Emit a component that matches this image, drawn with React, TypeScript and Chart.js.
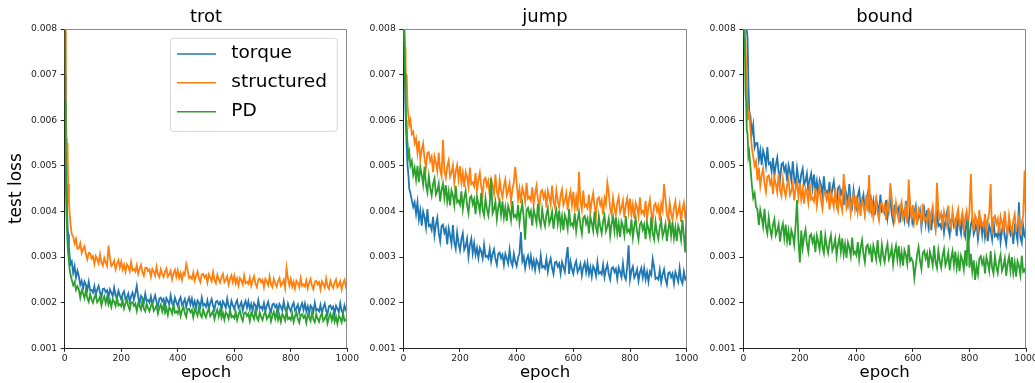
import React, { useEffect, useRef } from "react";
import { Chart, registerables } from "chart.js";

Chart.register(...registerables);

const FONT = "'DejaVu Sans', 'Liberation Sans', sans-serif";

const epochs = [
  0, 2, 4, 6, 8, 10, 12, 15, 18, 21, 25, 30, 35, 40, 45,
  50, 55, 60, 65, 70, 75, 80, 85, 90, 95,
  100, 105, 110, 115, 120, 125, 130, 135, 140, 145,
  150, 155, 160, 165, 170, 175, 180, 185, 190, 195,
  200, 205, 210, 215, 220, 225, 230, 235, 240, 245,
  250, 255, 260, 265, 270, 275, 280, 285, 290, 295,
  300, 305, 310, 315, 320, 325, 330, 335, 340, 345,
  350, 355, 360, 365, 370, 375, 380, 385, 390, 395,
  400, 405, 410, 415, 420, 425, 430, 435, 440, 445,
  450, 455, 460, 465, 470, 475, 480, 485, 490, 495,
  500, 505, 510, 515, 520, 525, 530, 535, 540, 545,
  550, 555, 560, 565, 570, 575, 580, 585, 590, 595,
  600, 605, 610, 615, 620, 625, 630, 635, 640, 645,
  650, 655, 660, 665, 670, 675, 680, 685, 690, 695,
  700, 705, 710, 715, 720, 725, 730, 735, 740, 745,
  750, 755, 760, 765, 770, 775, 780, 785, 790, 795,
  800, 805, 810, 815, 820, 825, 830, 835, 840, 845,
  850, 855, 860, 865, 870, 875, 880, 885, 890, 895,
  900, 905, 910, 915, 920, 925, 930, 935, 940, 945,
  950, 955, 960, 965, 970, 975, 980, 985, 990, 995,
  1000,
];

const seriesNames = ["torque", "structured", "PD"];
const seriesColors = ["#1f77b4", "#ff7f0e", "#2ca02c"];
const panelTitles = ["trot", "jump", "bound"];
const xTickValues = [0, 200, 400, 600, 800, 1000];
const yTickValues = [0.001, 0.002, 0.003, 0.004, 0.005, 0.006, 0.007, 0.008];

// ---------- trot ----------
const trotTorque = [
  0.0120, 0.0070, 0.0054, 0.0046, 0.0041, 0.0037, 0.0035, 0.0032, 0.0030, 0.00285, 0.0029, 0.00265, 0.0028, 0.00255, 0.0027,
  0.00258, 0.00239, 0.00248, 0.00231, 0.00246, 0.00239, 0.00228, 0.00246, 0.00227, 0.00228,
  0.00222, 0.00236, 0.00217, 0.00229, 0.00237, 0.00222, 0.00213, 0.00230, 0.00231, 0.00223,
  0.00227, 0.00211, 0.00229, 0.00222, 0.00214, 0.00233, 0.00216, 0.00209, 0.00226, 0.00216,
  0.00207, 0.00219, 0.00225, 0.00208, 0.00212, 0.00220, 0.00202, 0.00214, 0.00222, 0.00207,
  0.00220, 0.00237, 0.00213, 0.00198, 0.00215, 0.00210, 0.00200, 0.00220, 0.00203, 0.00206,
  0.00200, 0.00214, 0.00196, 0.00207, 0.00216, 0.00201, 0.00193, 0.00209, 0.00211, 0.00203,
  0.00208, 0.00192, 0.00210, 0.00204, 0.00196, 0.00216, 0.00199, 0.00193, 0.00211, 0.00201,
  0.00193, 0.00205, 0.00212, 0.00195, 0.00200, 0.00208, 0.00190, 0.00203, 0.00211, 0.00196,
  0.00209, 0.00192, 0.00203, 0.00188, 0.00205, 0.00200, 0.00191, 0.00211, 0.00194, 0.00197,
  0.00191, 0.00205, 0.00187, 0.00199, 0.00208, 0.00193, 0.00185, 0.00202, 0.00204, 0.00196,
  0.00201, 0.00185, 0.00203, 0.00197, 0.00189, 0.00209, 0.00192, 0.00186, 0.00204, 0.00194,
  0.00186, 0.00198, 0.00205, 0.00188, 0.00193, 0.00201, 0.00183, 0.00196, 0.00204, 0.00189,
  0.00203, 0.00186, 0.00197, 0.00182, 0.00199, 0.00194, 0.00185, 0.00205, 0.00188, 0.00191,
  0.00185, 0.00199, 0.00181, 0.00193, 0.00202, 0.00187, 0.00179, 0.00196, 0.00198, 0.00190,
  0.00195, 0.00179, 0.00197, 0.00191, 0.00183, 0.00203, 0.00186, 0.00180, 0.00198, 0.00188,
  0.00181, 0.00193, 0.00200, 0.00183, 0.00188, 0.00196, 0.00178, 0.00191, 0.00199, 0.00184,
  0.00198, 0.00181, 0.00192, 0.00177, 0.00194, 0.00189, 0.00180, 0.00200, 0.00183, 0.00186,
  0.00181, 0.00195, 0.00177, 0.00189, 0.00198, 0.00183, 0.00175, 0.00192, 0.00194, 0.00186,
  0.00191, 0.00175, 0.00193, 0.00187, 0.00179, 0.00199, 0.00182, 0.00176, 0.00194, 0.00184,
  0.00188,
];
const trotStructured = [
  0.0120, 0.0080, 0.0064, 0.0056, 0.0050, 0.0055, 0.0046, 0.0042, 0.0039, 0.0037, 0.0035, 0.00345, 0.00330, 0.00340, 0.00318,
  0.00319, 0.00330, 0.00309, 0.00318, 0.00324, 0.00306, 0.00295, 0.00309, 0.00308, 0.00297,
  0.00302, 0.00285, 0.00302, 0.00295, 0.00286, 0.00306, 0.00288, 0.00281, 0.00298, 0.00288,
  0.00280, 0.00325, 0.00298, 0.00280, 0.00284, 0.00292, 0.00273, 0.00285, 0.00293, 0.00277,
  0.00290, 0.00273, 0.00283, 0.00268, 0.00284, 0.00279, 0.00269, 0.00289, 0.00271, 0.00274,
  0.00268, 0.00282, 0.00263, 0.00274, 0.00283, 0.00268, 0.00259, 0.00276, 0.00277, 0.00269,
  0.00273, 0.00257, 0.00274, 0.00268, 0.00259, 0.00279, 0.00262, 0.00256, 0.00273, 0.00263,
  0.00256, 0.00268, 0.00275, 0.00257, 0.00262, 0.00270, 0.00251, 0.00264, 0.00272, 0.00257,
  0.00271, 0.00254, 0.00265, 0.00250, 0.00266, 0.00261, 0.00285, 0.00272, 0.00254, 0.00257,
  0.00252, 0.00266, 0.00248, 0.00259, 0.00268, 0.00253, 0.00245, 0.00262, 0.00263, 0.00255,
  0.00260, 0.00244, 0.00262, 0.00255, 0.00247, 0.00267, 0.00250, 0.00243, 0.00261, 0.00251,
  0.00244, 0.00256, 0.00263, 0.00245, 0.00250, 0.00258, 0.00240, 0.00252, 0.00260, 0.00245,
  0.00259, 0.00242, 0.00253, 0.00238, 0.00254, 0.00249, 0.00240, 0.00260, 0.00243, 0.00246,
  0.00241, 0.00255, 0.00237, 0.00248, 0.00258, 0.00242, 0.00234, 0.00251, 0.00253, 0.00245,
  0.00250, 0.00234, 0.00252, 0.00246, 0.00238, 0.00258, 0.00240, 0.00234, 0.00252, 0.00242,
  0.00235, 0.00247, 0.00254, 0.00237, 0.00242, 0.00250, 0.00232, 0.00276, 0.00253, 0.00238,
  0.00252, 0.00235, 0.00246, 0.00231, 0.00248, 0.00243, 0.00234, 0.00254, 0.00237, 0.00240,
  0.00235, 0.00249, 0.00231, 0.00243, 0.00252, 0.00237, 0.00229, 0.00246, 0.00248, 0.00240,
  0.00245, 0.00229, 0.00247, 0.00241, 0.00233, 0.00253, 0.00236, 0.00230, 0.00248, 0.00238,
  0.00232, 0.00244, 0.00251, 0.00234, 0.00239, 0.00247, 0.00229, 0.00242, 0.00250, 0.00235,
  0.00242,
];
const trotPD = [
  0.0120, 0.0064, 0.0047, 0.0040, 0.0036, 0.0033, 0.0031, 0.0029, 0.0027, 0.0026, 0.0025, 0.00238, 0.00245, 0.00228, 0.00236,
  0.00229, 0.00211, 0.00227, 0.00220, 0.00210, 0.00228, 0.00210, 0.00202, 0.00219, 0.00207,
  0.00200, 0.00212, 0.00218, 0.00201, 0.00205, 0.00213, 0.00194, 0.00207, 0.00214, 0.00199,
  0.00213, 0.00196, 0.00206, 0.00191, 0.00207, 0.00202, 0.00193, 0.00212, 0.00194, 0.00197,
  0.00192, 0.00206, 0.00187, 0.00198, 0.00207, 0.00192, 0.00184, 0.00200, 0.00201, 0.00193,
  0.00198, 0.00182, 0.00199, 0.00193, 0.00185, 0.00204, 0.00187, 0.00181, 0.00198, 0.00188,
  0.00181, 0.00193, 0.00199, 0.00182, 0.00187, 0.00194, 0.00176, 0.00189, 0.00196, 0.00181,
  0.00195, 0.00178, 0.00188, 0.00173, 0.00190, 0.00185, 0.00176, 0.00196, 0.00178, 0.00181,
  0.00176, 0.00190, 0.00171, 0.00183, 0.00192, 0.00177, 0.00169, 0.00186, 0.00187, 0.00179,
  0.00184, 0.00168, 0.00185, 0.00179, 0.00171, 0.00191, 0.00174, 0.00168, 0.00185, 0.00175,
  0.00168, 0.00180, 0.00187, 0.00170, 0.00175, 0.00182, 0.00164, 0.00177, 0.00185, 0.00170,
  0.00184, 0.00167, 0.00178, 0.00163, 0.00179, 0.00174, 0.00165, 0.00185, 0.00168, 0.00171,
  0.00166, 0.00180, 0.00162, 0.00174, 0.00183, 0.00168, 0.00160, 0.00177, 0.00179, 0.00171,
  0.00176, 0.00160, 0.00178, 0.00172, 0.00164, 0.00184, 0.00167, 0.00161, 0.00179, 0.00169,
  0.00162, 0.00174, 0.00181, 0.00164, 0.00169, 0.00177, 0.00159, 0.00172, 0.00180, 0.00165,
  0.00179, 0.00162, 0.00173, 0.00158, 0.00175, 0.00170, 0.00161, 0.00181, 0.00164, 0.00167,
  0.00162, 0.00176, 0.00158, 0.00170, 0.00179, 0.00164, 0.00156, 0.00173, 0.00175, 0.00167,
  0.00172, 0.00156, 0.00174, 0.00168, 0.00160, 0.00180, 0.00163, 0.00157, 0.00175, 0.00165,
  0.00158, 0.00170, 0.00177, 0.00160, 0.00165, 0.00173, 0.00155, 0.00168, 0.00176, 0.00161,
  0.00175, 0.00158, 0.00169, 0.00154, 0.00171, 0.00166, 0.00157, 0.00177, 0.00160, 0.00163,
  0.00160,
];

// ---------- jump ----------
const jumpTorque = [
  0.0085, 0.0078, 0.0074, 0.0068, 0.0062, 0.0058, 0.0054, 0.0050, 0.0048, 0.0045, 0.00440, 0.00425, 0.00410, 0.00420, 0.00395,
  0.00420, 0.00382, 0.00402, 0.00369, 0.00400, 0.00388, 0.00365, 0.00405, 0.00368, 0.00371,
  0.00360, 0.00388, 0.00348, 0.00371, 0.00386, 0.00354, 0.00335, 0.00368, 0.00371, 0.00353,
  0.00362, 0.00328, 0.00363, 0.00348, 0.00329, 0.00370, 0.00332, 0.00318, 0.00354, 0.00330,
  0.00315, 0.00339, 0.00352, 0.00316, 0.00324, 0.00340, 0.00301, 0.00326, 0.00340, 0.00308,
  0.00330, 0.00305, 0.00320, 0.00298, 0.00320, 0.00312, 0.00297, 0.00327, 0.00301, 0.00303,
  0.00297, 0.00317, 0.00290, 0.00307, 0.00317, 0.00296, 0.00283, 0.00307, 0.00310, 0.00298,
  0.00305, 0.00283, 0.00307, 0.00297, 0.00286, 0.00316, 0.00290, 0.00281, 0.00307, 0.00290,
  0.00280, 0.00299, 0.00308, 0.00355, 0.00291, 0.00301, 0.00276, 0.00294, 0.00303, 0.00282,
  0.00302, 0.00278, 0.00293, 0.00272, 0.00294, 0.00287, 0.00273, 0.00303, 0.00277, 0.00280,
  0.00275, 0.00296, 0.00268, 0.00286, 0.00297, 0.00276, 0.00263, 0.00288, 0.00290, 0.00279,
  0.00286, 0.00264, 0.00289, 0.00279, 0.00268, 0.00298, 0.00322, 0.00263, 0.00290, 0.00273,
  0.00263, 0.00282, 0.00291, 0.00267, 0.00274, 0.00285, 0.00260, 0.00278, 0.00288, 0.00267,
  0.00287, 0.00263, 0.00278, 0.00257, 0.00280, 0.00273, 0.00259, 0.00289, 0.00264, 0.00267,
  0.00262, 0.00283, 0.00256, 0.00273, 0.00284, 0.00263, 0.00251, 0.00275, 0.00278, 0.00267,
  0.00274, 0.00252, 0.00277, 0.00267, 0.00256, 0.00286, 0.00259, 0.00251, 0.00278, 0.00326,
  0.00251, 0.00270, 0.00279, 0.00255, 0.00262, 0.00273, 0.00248, 0.00266, 0.00276, 0.00255,
  0.00275, 0.00251, 0.00267, 0.00246, 0.00268, 0.00261, 0.00296, 0.00278, 0.00252, 0.00255,
  0.00251, 0.00272, 0.00245, 0.00262, 0.00273, 0.00252, 0.00240, 0.00265, 0.00267, 0.00256,
  0.00264, 0.00242, 0.00267, 0.00257, 0.00246, 0.00276, 0.00250, 0.00242, 0.00268, 0.00251,
  0.00255,
];
const jumpStructured = [
  0.0090, 0.0085, 0.0080, 0.0076, 0.0072, 0.0068, 0.0070, 0.0063, 0.0061, 0.0059, 0.0060, 0.0057, 0.00575, 0.0055, 0.0056,
  0.00528, 0.00555, 0.00514, 0.00535, 0.00549, 0.00516, 0.00496, 0.00528, 0.00530, 0.00510,
  0.00520, 0.00486, 0.00521, 0.00507, 0.00488, 0.00529, 0.00491, 0.00477, 0.00557, 0.00489,
  0.00474, 0.00499, 0.00512, 0.00476, 0.00485, 0.00501, 0.00463, 0.00488, 0.00502, 0.00471,
  0.00499, 0.00463, 0.00485, 0.00453, 0.00486, 0.00475, 0.00454, 0.00496, 0.00460, 0.00464,
  0.00455, 0.00484, 0.00445, 0.00469, 0.00485, 0.00454, 0.00436, 0.00470, 0.00474, 0.00456,
  0.00467, 0.00434, 0.00470, 0.00457, 0.00439, 0.00481, 0.00444, 0.00432, 0.00469, 0.00445,
  0.00431, 0.00456, 0.00470, 0.00435, 0.00445, 0.00461, 0.00423, 0.00448, 0.00464, 0.00498,
  0.00462, 0.00426, 0.00449, 0.00418, 0.00452, 0.00441, 0.00421, 0.00463, 0.00428, 0.00432,
  0.00424, 0.00453, 0.00415, 0.00439, 0.00456, 0.00426, 0.00409, 0.00443, 0.00447, 0.00430,
  0.00441, 0.00409, 0.00445, 0.00432, 0.00415, 0.00457, 0.00421, 0.00409, 0.00446, 0.00423,
  0.00409, 0.00435, 0.00448, 0.00414, 0.00424, 0.00440, 0.00403, 0.00430, 0.00444, 0.00414,
  0.00443, 0.00408, 0.00430, 0.00400, 0.00487, 0.00423, 0.00404, 0.00446, 0.00411, 0.00415,
  0.00407, 0.00437, 0.00398, 0.00423, 0.00440, 0.00410, 0.00392, 0.00427, 0.00431, 0.00414,
  0.00425, 0.00393, 0.00429, 0.00416, 0.00463, 0.00441, 0.00405, 0.00393, 0.00430, 0.00407,
  0.00393, 0.00419, 0.00432, 0.00398, 0.00408, 0.00424, 0.00387, 0.00414, 0.00429, 0.00399,
  0.00428, 0.00393, 0.00415, 0.00385, 0.00419, 0.00409, 0.00389, 0.00431, 0.00396, 0.00401,
  0.00393, 0.00423, 0.00384, 0.00409, 0.00426, 0.00396, 0.00379, 0.00413, 0.00418, 0.00401,
  0.00412, 0.00380, 0.00417, 0.00403, 0.00460, 0.00429, 0.00393, 0.00381, 0.00419, 0.00396,
  0.00382, 0.00408, 0.00422, 0.00388, 0.00398, 0.00415, 0.00377, 0.00404, 0.00419, 0.00389,
  0.00400,
];
const jumpPD = [
  0.0090, 0.0082, 0.0078, 0.0070, 0.0065, 0.0060, 0.0057, 0.0055, 0.0052, 0.0053, 0.0050, 0.0051, 0.0048, 0.00495, 0.0047,
  0.00500, 0.00464, 0.00497, 0.00480, 0.00459, 0.00498, 0.00458, 0.00442, 0.00477, 0.00451,
  0.00435, 0.00460, 0.00472, 0.00437, 0.00445, 0.00461, 0.00422, 0.00448, 0.00461, 0.00430,
  0.00458, 0.00422, 0.00444, 0.00413, 0.00446, 0.00435, 0.00414, 0.00456, 0.00420, 0.00424,
  0.00415, 0.00444, 0.00405, 0.00429, 0.00445, 0.00414, 0.00396, 0.00430, 0.00434, 0.00416,
  0.00427, 0.00394, 0.00431, 0.00417, 0.00399, 0.00441, 0.00404, 0.00391, 0.00429, 0.00405,
  0.00391, 0.00417, 0.00473, 0.00396, 0.00405, 0.00421, 0.00383, 0.00409, 0.00423, 0.00393,
  0.00422, 0.00387, 0.00409, 0.00379, 0.00412, 0.00401, 0.00381, 0.00423, 0.00388, 0.00392,
  0.00384, 0.00414, 0.00375, 0.00400, 0.00417, 0.00386, 0.00338, 0.00403, 0.00408, 0.00390,
  0.00401, 0.00369, 0.00405, 0.00391, 0.00375, 0.00417, 0.00381, 0.00368, 0.00405, 0.00382,
  0.00368, 0.00393, 0.00407, 0.00373, 0.00383, 0.00399, 0.00362, 0.00389, 0.00403, 0.00373,
  0.00402, 0.00367, 0.00389, 0.00359, 0.00392, 0.00382, 0.00362, 0.00405, 0.00370, 0.00374,
  0.00366, 0.00396, 0.00357, 0.00382, 0.00398, 0.00369, 0.00351, 0.00386, 0.00390, 0.00373,
  0.00384, 0.00352, 0.00388, 0.00375, 0.00358, 0.00400, 0.00364, 0.00352, 0.00389, 0.00366,
  0.00352, 0.00378, 0.00391, 0.00357, 0.00367, 0.00384, 0.00347, 0.00373, 0.00388, 0.00358,
  0.00387, 0.00352, 0.00374, 0.00344, 0.00378, 0.00368, 0.00348, 0.00390, 0.00355, 0.00360,
  0.00352, 0.00382, 0.00343, 0.00368, 0.00385, 0.00355, 0.00338, 0.00372, 0.00377, 0.00360,
  0.00371, 0.00339, 0.00375, 0.00362, 0.00345, 0.00388, 0.00352, 0.00339, 0.00377, 0.00354,
  0.00340, 0.00366, 0.00380, 0.00345, 0.00356, 0.00372, 0.00335, 0.00362, 0.00377, 0.00347,
  0.00377, 0.00342, 0.00365, 0.00335, 0.00369, 0.00358, 0.00338, 0.00381, 0.00346, 0.00310,
  0.00412,
];

// ---------- bound ----------
const boundTorque = [
  0.0090, 0.0088, 0.0086, 0.0085, 0.0083, 0.0081, 0.0080, 0.0078, 0.0068, 0.0062, 0.0061, 0.0057, 0.0059, 0.0054, 0.0055,
  0.00550, 0.00513, 0.00534, 0.00502, 0.00534, 0.00522, 0.00500, 0.00541, 0.00504, 0.00507,
  0.00488, 0.00517, 0.00478, 0.00502, 0.00518, 0.00487, 0.00469, 0.00503, 0.00507, 0.00489,
  0.00499, 0.00466, 0.00501, 0.00487, 0.00468, 0.00510, 0.00472, 0.00459, 0.00495, 0.00471,
  0.00457, 0.00482, 0.00494, 0.00459, 0.00467, 0.00483, 0.00444, 0.00470, 0.00483, 0.00452,
  0.00481, 0.00445, 0.00466, 0.00435, 0.00468, 0.00457, 0.00436, 0.00477, 0.00441, 0.00445,
  0.00436, 0.00465, 0.00426, 0.00450, 0.00466, 0.00435, 0.00417, 0.00451, 0.00455, 0.00437,
  0.00447, 0.00414, 0.00451, 0.00436, 0.00418, 0.00460, 0.00423, 0.00410, 0.00447, 0.00423,
  0.00409, 0.00434, 0.00447, 0.00412, 0.00421, 0.00436, 0.00399, 0.00425, 0.00439, 0.00408,
  0.00437, 0.00401, 0.00423, 0.00392, 0.00426, 0.00414, 0.00394, 0.00437, 0.00400, 0.00404,
  0.00396, 0.00425, 0.00386, 0.00410, 0.00426, 0.00396, 0.00378, 0.00412, 0.00416, 0.00398,
  0.00409, 0.00376, 0.00413, 0.00399, 0.00381, 0.00423, 0.00387, 0.00374, 0.00411, 0.00387,
  0.00373, 0.00398, 0.00412, 0.00377, 0.00386, 0.00402, 0.00365, 0.00391, 0.00405, 0.00374,
  0.00403, 0.00367, 0.00390, 0.00359, 0.00393, 0.00382, 0.00362, 0.00404, 0.00368, 0.00372,
  0.00364, 0.00393, 0.00354, 0.00379, 0.00396, 0.00365, 0.00348, 0.00382, 0.00386, 0.00368,
  0.00379, 0.00346, 0.00383, 0.00369, 0.00352, 0.00395, 0.00358, 0.00345, 0.00383, 0.00359,
  0.00345, 0.00370, 0.00384, 0.00350, 0.00360, 0.00376, 0.00339, 0.00365, 0.00380, 0.00349,
  0.00378, 0.00343, 0.00366, 0.00335, 0.00369, 0.00358, 0.00339, 0.00381, 0.00346, 0.00350,
  0.00342, 0.00371, 0.00333, 0.00358, 0.00375, 0.00345, 0.00328, 0.00362, 0.00367, 0.00350,
  0.00361, 0.00329, 0.00366, 0.00353, 0.00336, 0.00420, 0.00343, 0.00331, 0.00368, 0.00345,
  0.00340,
];
const boundStructured = [
  0.0088, 0.0085, 0.0082, 0.0080, 0.0076, 0.0072, 0.0068, 0.0063, 0.0060, 0.0062, 0.0058, 0.0054, 0.0052, 0.0050, 0.0051,
  0.00468, 0.00496, 0.00456, 0.00479, 0.00494, 0.00462, 0.00443, 0.00476, 0.00479, 0.00460,
  0.00471, 0.00438, 0.00474, 0.00460, 0.00442, 0.00484, 0.00447, 0.00434, 0.00471, 0.00447,
  0.00433, 0.00458, 0.00471, 0.00436, 0.00445, 0.00462, 0.00424, 0.00450, 0.00464, 0.00433,
  0.00462, 0.00426, 0.00448, 0.00417, 0.00450, 0.00440, 0.00419, 0.00461, 0.00426, 0.00430,
  0.00422, 0.00451, 0.00413, 0.00436, 0.00454, 0.00424, 0.00406, 0.00440, 0.00444, 0.00426,
  0.00437, 0.00404, 0.00441, 0.00427, 0.00410, 0.00452, 0.00415, 0.00402, 0.00440, 0.00416,
  0.00402, 0.00482, 0.00441, 0.00406, 0.00416, 0.00433, 0.00396, 0.00422, 0.00437, 0.00405,
  0.00434, 0.00398, 0.00421, 0.00390, 0.00424, 0.00414, 0.00393, 0.00435, 0.00400, 0.00480,
  0.00396, 0.00425, 0.00387, 0.00411, 0.00428, 0.00398, 0.00381, 0.00415, 0.00419, 0.00402,
  0.00413, 0.00381, 0.00417, 0.00403, 0.00462, 0.00429, 0.00393, 0.00380, 0.00418, 0.00394,
  0.00380, 0.00406, 0.00420, 0.00385, 0.00395, 0.00412, 0.00374, 0.00470, 0.00416, 0.00385,
  0.00414, 0.00379, 0.00401, 0.00371, 0.00405, 0.00395, 0.00374, 0.00417, 0.00382, 0.00386,
  0.00378, 0.00408, 0.00369, 0.00394, 0.00411, 0.00381, 0.00363, 0.00463, 0.00403, 0.00385,
  0.00396, 0.00364, 0.00400, 0.00387, 0.00370, 0.00413, 0.00377, 0.00364, 0.00402, 0.00379,
  0.00365, 0.00391, 0.00405, 0.00370, 0.00381, 0.00397, 0.00360, 0.00386, 0.00401, 0.00371,
  0.00400, 0.00482, 0.00388, 0.00357, 0.00391, 0.00381, 0.00361, 0.00403, 0.00368, 0.00373,
  0.00365, 0.00395, 0.00357, 0.00382, 0.00398, 0.00460, 0.00350, 0.00386, 0.00390, 0.00373,
  0.00384, 0.00352, 0.00389, 0.00375, 0.00358, 0.00401, 0.00365, 0.00353, 0.00391, 0.00367,
  0.00354, 0.00380, 0.00394, 0.00360, 0.00370, 0.00387, 0.00349, 0.00376, 0.00391, 0.00490,
  0.00372,
];
const boundPD = [
  0.0085, 0.0080, 0.0078, 0.0074, 0.0066, 0.0064, 0.0058, 0.0057, 0.0052, 0.0053, 0.0050, 0.0046, 0.0043, 0.0044, 0.0041,
  0.00405, 0.00370, 0.00403, 0.00387, 0.00367, 0.00406, 0.00367, 0.00352, 0.00387, 0.00361,
  0.00346, 0.00371, 0.00383, 0.00348, 0.00357, 0.00372, 0.00334, 0.00360, 0.00373, 0.00342,
  0.00371, 0.00335, 0.00357, 0.00326, 0.00359, 0.00348, 0.00327, 0.00369, 0.00425, 0.00337,
  0.00288, 0.00358, 0.00320, 0.00344, 0.00360, 0.00329, 0.00312, 0.00346, 0.00350, 0.00332,
  0.00343, 0.00311, 0.00347, 0.00333, 0.00316, 0.00358, 0.00322, 0.00309, 0.00347, 0.00323,
  0.00309, 0.00334, 0.00348, 0.00314, 0.00323, 0.00340, 0.00302, 0.00327, 0.00342, 0.00312,
  0.00341, 0.00306, 0.00328, 0.00298, 0.00332, 0.00321, 0.00302, 0.00343, 0.00307, 0.00312,
  0.00304, 0.00333, 0.00295, 0.00320, 0.00337, 0.00307, 0.00289, 0.00323, 0.00327, 0.00310,
  0.00321, 0.00289, 0.00325, 0.00312, 0.00295, 0.00337, 0.00301, 0.00289, 0.00327, 0.00303,
  0.00289, 0.00315, 0.00329, 0.00295, 0.00304, 0.00321, 0.00284, 0.00310, 0.00325, 0.00295,
  0.00324, 0.00289, 0.00311, 0.00281, 0.00315, 0.00305, 0.00285, 0.00327, 0.00292, 0.00297,
  0.00289, 0.00254, 0.00281, 0.00306, 0.00322, 0.00292, 0.00274, 0.00309, 0.00314, 0.00297,
  0.00308, 0.00276, 0.00312, 0.00299, 0.00282, 0.00325, 0.00289, 0.00276, 0.00314, 0.00291,
  0.00277, 0.00303, 0.00317, 0.00282, 0.00292, 0.00309, 0.00271, 0.00297, 0.00313, 0.00283,
  0.00312, 0.00277, 0.00300, 0.00269, 0.00303, 0.00293, 0.00273, 0.00315, 0.00280, 0.00380,
  0.00277, 0.00307, 0.00268, 0.00293, 0.00250, 0.00280, 0.00262, 0.00297, 0.00302, 0.00285,
  0.00296, 0.00264, 0.00300, 0.00287, 0.00270, 0.00313, 0.00277, 0.00264, 0.00302, 0.00279,
  0.00265, 0.00291, 0.00305, 0.00270, 0.00280, 0.00297, 0.00259, 0.00286, 0.00301, 0.00271,
  0.00300, 0.00265, 0.00288, 0.00257, 0.00291, 0.00281, 0.00261, 0.00303, 0.00268, 0.00273,
  0.00262,
];

const panelSeries = [
  [trotTorque, trotStructured, trotPD],
  [jumpTorque, jumpStructured, jumpPD],
  [boundTorque, boundStructured, boundPD],
];

const framePlugin = {
  id: "frame",
  afterDraw(chart: any) {
    const { ctx, chartArea: a } = chart;
    ctx.save();
    ctx.lineWidth = 1;
    ctx.strokeStyle = "#8a8a8a";
    ctx.beginPath();
    const top = Math.round(a.top) + 0.5;
    const right = Math.round(a.right) - 0.5;
    ctx.moveTo(a.left, top);
    ctx.lineTo(right, top);
    ctx.lineTo(right, a.bottom);
    ctx.stroke();
    ctx.restore();
  },
};

const boxLegendPlugin = {
  id: "boxLegend",
  afterDraw(chart: any) {
    const { ctx, chartArea: a } = chart;
    const boxW = 167;
    const boxH = 93;
    const x0 = a.right - 10 - boxW;
    const y0 = a.top + 9.3;
    const r = 3;
    ctx.save();
    ctx.beginPath();
    ctx.moveTo(x0 + r, y0);
    ctx.lineTo(x0 + boxW - r, y0);
    ctx.arcTo(x0 + boxW, y0, x0 + boxW, y0 + r, r);
    ctx.lineTo(x0 + boxW, y0 + boxH - r);
    ctx.arcTo(x0 + boxW, y0 + boxH, x0 + boxW - r, y0 + boxH, r);
    ctx.lineTo(x0 + r, y0 + boxH);
    ctx.arcTo(x0, y0 + boxH, x0, y0 + boxH - r, r);
    ctx.lineTo(x0, y0 + r);
    ctx.arcTo(x0, y0, x0 + r, y0, r);
    ctx.closePath();
    ctx.fillStyle = "rgba(255,255,255,0.8)";
    ctx.fill();
    ctx.strokeStyle = "#d6d6d6";
    ctx.lineWidth = 1;
    ctx.stroke();
    ctx.font = `18.5px ${FONT}`;
    ctx.textBaseline = "middle";
    ctx.textAlign = "left";
    seriesNames.forEach((name, i) => {
      const y = y0 + 15.7 + i * 28.85;
      ctx.beginPath();
      ctx.strokeStyle = seriesColors[i];
      ctx.lineWidth = 1.5;
      ctx.moveTo(x0 + 6.7, y);
      ctx.lineTo(x0 + 45.7, y);
      ctx.stroke();
      ctx.fillStyle = "#000";
      ctx.fillText(name, x0 + 61, y - 1);
    });
    ctx.restore();
  },
};

type PanelProps = {
  idx: number;
  left: number;
  width: number;
  axisW: number;
  padR: number;
  yLabel?: string;
  legend?: boolean;
};

function Panel({ idx, left, width, axisW, padR, yLabel, legend }: PanelProps) {
  const ref = useRef<HTMLCanvasElement | null>(null);
  useEffect(() => {
    if (!ref.current) return;
    const series = panelSeries[idx];
    // PD drawn last (on top), torque first, as in the source figure
    const datasets = [2, 1, 0].map((i) => ({
      label: seriesNames[i],
      data: epochs.map((e, k) => ({ x: e, y: series[i][k] })),
      borderColor: seriesColors[i],
      backgroundColor: seriesColors[i],
      borderWidth: 1.8,
      pointRadius: 0,
      fill: false,
      tension: 0,
    }));
    const tickFont = { family: FONT, size: 9.2 };
    const chart = new Chart(ref.current, {
      type: "line",
      data: { datasets },
      options: {
        responsive: false,
        animation: false,
        devicePixelRatio: 1,
        events: [],
        layout: { padding: { left: 0, right: padR, top: 0, bottom: 0 } },
        plugins: {
          legend: { display: false },
          tooltip: { enabled: false },
          title: {
            display: true,
            text: panelTitles[idx],
            fullSize: false,
            color: "#000",
            font: { family: FONT, size: 18, weight: "normal", lineHeight: 1.2 },
            padding: { top: 6.3, bottom: 1.1 },
          },
        },
        scales: {
          x: {
            type: "linear",
            min: 0,
            max: 1000,
            afterBuildTicks: (s: any) => {
              s.ticks = xTickValues.map((v) => ({ value: v }));
            },
            afterFit: (s: any) => {
              s.height = 34.7;
            },
            ticks: {
              autoSkip: false,
              maxRotation: 0,
              padding: 1.5,
              color: "#222",
              font: tickFont,
              callback: (v: any) => String(v),
            },
            grid: {
              drawOnChartArea: false,
              drawTicks: true,
              tickLength: 3.5,
              tickColor: "#222",
              color: "#222",
            },
            border: { display: true, color: "#222", width: 1 },
            title: {
              display: true,
              text: "epoch",
              color: "#000",
              font: { family: FONT, size: 16.5, lineHeight: 1.2 },
              padding: { top: 0, bottom: 0.8 },
            },
          },
          y: {
            type: "linear",
            min: 0.001,
            max: 0.008,
            afterBuildTicks: (s: any) => {
              s.ticks = yTickValues.map((v) => ({ value: v }));
            },
            afterFit: (s: any) => {
              s.width = axisW;
            },
            ticks: {
              autoSkip: false,
              padding: 3.5,
              color: "#222",
              font: tickFont,
              callback: (v: any) => Number(v).toFixed(3),
            },
            grid: {
              drawOnChartArea: false,
              drawTicks: true,
              tickLength: 4,
              tickColor: "#222",
              color: "#222",
            },
            border: { display: true, color: "#222", width: 1 },
            title: {
              display: !!yLabel,
              text: yLabel || "",
              color: "#000",
              font: { family: FONT, size: 17, lineHeight: 1.2 },
              padding: { top: 6, bottom: 0 },
            },
          },
        },
      },
      plugins: legend ? [framePlugin, boxLegendPlugin] : [framePlugin],
    } as any);
    return () => chart.destroy();
  }, []);
  return (
    <canvas
      ref={ref}
      width={width}
      height={383}
      style={{ position: "absolute", left, top: 0, width, height: 383 }}
    />
  );
}

export default function App() {
  return (
    <div
      style={{
        position: "absolute",
        left: 0,
        top: 0,
        width: 1035,
        height: 383,
        overflow: "hidden",
        background: "#fff",
      }}
    >
      <Panel idx={0} left={0} width={365} axisW={64.7} padR={17.7} yLabel="test loss" legend />
      <Panel idx={1} left={365} width={335} axisW={38.3} padR={13.3} />
      <Panel idx={2} left={700} width={345} axisW={43.3} padR={19} />
    </div>
  );
}
